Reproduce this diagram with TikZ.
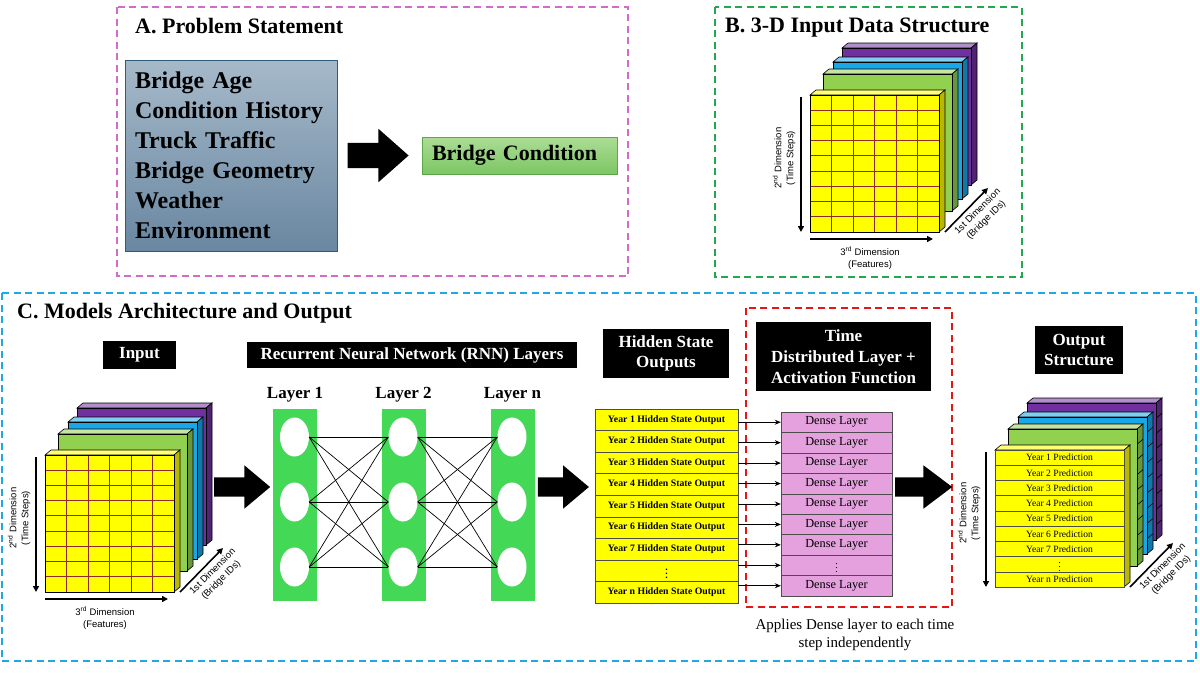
\documentclass[tikz,border=0pt]{standalone}
\usepackage{fontspec}
\setmainfont{Liberation Serif}
\setsansfont{Liberation Sans}
\usepackage{tikz}
\usetikzlibrary{positioning}
\usetikzlibrary{shapes.geometric}
\usetikzlibrary{shapes.arrows}
\usetikzlibrary{arrows.meta}
\usetikzlibrary{calc}
\definecolor{boxA}{HTML}{D36CC9}
\definecolor{boxB}{HTML}{22A84F}
\definecolor{boxC}{HTML}{1DA9E3}
\definecolor{tdred}{HTML}{E41616}
\definecolor{slateTop}{HTML}{A6B9C9}
\definecolor{slateBot}{HTML}{6987A1}
\definecolor{slateEdge}{HTML}{2D5C7C}
\definecolor{condTop}{HTML}{ABDD95}
\definecolor{condBot}{HTML}{7DC664}
\definecolor{condEdge}{HTML}{5EA64B}
\definecolor{rnngreen}{HTML}{44D857}
\definecolor{denseclr}{HTML}{E4A1DE}
\definecolor{gridred}{HTML}{8E2B2B}
\definecolor{slabY}{HTML}{FFFF00}
\definecolor{slabG}{HTML}{92D050}
\definecolor{slabB}{HTML}{19A7E8}
\definecolor{slabP}{HTML}{7030A0}
\tikzstyle{section box} = [line width = 2pt, dash pattern = on 7pt off 4.5pt]
\tikzstyle{section title} = [anchor = base west, inner sep = 0, font = \bfseries\fontsize{22}{24}\selectfont]
\tikzstyle{head box} = [fill = black, text = white, align = center, inner sep = 0, font = \bfseries\fontsize{17}{20}\selectfont]
\tikzstyle{block arrow} = [single arrow, fill = black, inner xsep = 0, anchor = tail]
\tikzstyle{dim arrow} = [line width = 1.6pt, -{Triangle[length = 6pt, width = 6pt]}]
\tikzstyle{dim label} = [align = center, inner sep = 0, font = \sffamily\fontsize{9.5}{12}\selectfont]
\tikzstyle{slab edge} = [draw = black, line width = 0.6pt]
\tikzstyle{grid line} = [draw = gridred, line width = 0.9pt]
\tikzstyle{rnn bar} = [fill = rnngreen, minimum width = 44pt, minimum height = 192pt, inner sep = 0]
\tikzstyle{neuron} = [ellipse, fill = white, minimum width = 29pt, minimum height = 39pt, inner sep = 0]
\tikzstyle{link} = [line width = 0.7pt]
\tikzstyle{hidden row} = [draw = black!70, fill = slabY, minimum width = 143pt, minimum height = 21.55pt, inner sep = 0, font = \bfseries\fontsize{9.8}{11}\selectfont]
\tikzstyle{dense row} = [draw = black!70, fill = denseclr, minimum width = 111pt, minimum height = 20.44pt, inner sep = 0, font = \fontsize{12.3}{13}\selectfont]
\tikzstyle{pred row} = [draw = black!70, fill = slabY, minimum width = 129pt, minimum height = 15.22pt, inner sep = 0, font = \fontsize{9.6}{11}\selectfont]
\tikzstyle{step arrow} = [line width = 0.9pt, -{Stealth[length = 6pt, width = 5pt]}]
\newcommand{\rowdots}{{\fontsize{10}{10}\selectfont$\vdots$}}
\newcommand{\yearlabel}[2]{\ifnum#1=8 \rowdots\else\ifnum#1=9 Year n #2\else Year #1 #2\fi\fi}
% one slab of the data cube: top face, side face, front face
\newcommand{\cubeslab}[4]{%
    \filldraw [slab edge, fill = #3!55!white] (#1, #2) -- ++(6, -5) -- ++(129, 0) -- ++(-6, 5) -- cycle;
    \filldraw [slab edge, fill = #3!72!black] (#1 + 129, #2) -- ++(6, -5) -- ++(0, 137) -- ++(-6, 5) -- cycle;
    \ifnum#4=1
        \foreach \r in {1, ..., 8}
            \draw [slab edge] ({#1 + 129}, {#2 + 15.22*\r}) -- ++(6, -5);
    \fi
    \filldraw [slab edge, fill = #3] (#1, #2) rectangle ++(129, 137);
}
\newcommand{\datacube}[3]{%
    \cubeslab{#1 + 32}{#2 - 47}{slabP}{#3}
    \cubeslab{#1 + 23}{#2 - 33}{slabB}{#3}
    \cubeslab{#1 + 13}{#2 - 21}{slabG}{#3}
    \cubeslab{#1}{#2}{slabY}{0}
}
\newcommand{\cubegrid}[2]{%
    \foreach \c in {1, ..., 5}
        \draw [grid line] ({#1 + 21.5*\c}, #2) -- ++(0, 137);
    \foreach \r in {1, ..., 8}
        \draw [grid line] (#1, {#2 + 15.22*\r}) -- ++(129, 0);
    \draw [slab edge] (#1, #2) rectangle ++(129, 137);
}
% time steps and bridge ids axes
\newcommand{\cubeaxes}[3]{%
    \coordinate (#3t1) at (#1 - 9, #2 + 2);
    \coordinate (#3t2) at (#1 - 9, #2 + 137);
    \draw [dim arrow] (#3t1) -- (#3t2);
    \node [dim label, rotate = 90] (#3tl) at (#1 - 26, #2 + 63) {2\textsuperscript{nd} Dimension\\(Time Steps)};
    \coordinate (#3b1) at (#1 + 135, #2 + 137);
    \coordinate (#3b2) at (#1 + 178, #2 + 93);
    \draw [dim arrow] (#3b1) -- (#3b2);
    \node [dim label, rotate = 45] (#3bl) at (#1 + 172, #2 + 121) {1st Dimension\\(Bridge IDs)};
}
\newcommand{\featureaxis}[3]{%
    \coordinate (#3f1) at (#1, #2 + 144);
    \coordinate (#3f2) at (#1 + 123, #2 + 144);
    \draw [dim arrow] (#3f1) -- (#3f2);
    \node [dim label] (#3fl) at (#1 + 60, #2 + 163) {3\textsuperscript{rd} Dimension\\(Features)};
}

\begin{document}
\begin{tikzpicture}[x = 1pt, y = -1pt]
    \useasboundingbox [fill = white] (0, 0) rectangle (1200, 675);

    % A. problem statement
    \draw [section box, boxA] (117, 7) rectangle (628, 276);
    \node [section title] (titleA) at (135, 33) {A. Problem Statement};
    \node [draw = slateEdge, line width = 0.8pt, top color = slateTop, bottom color = slateBot,
        minimum width = 212pt, minimum height = 191pt, text width = 192pt, inner xsep = 10pt,
        align = left, font = \bfseries\fontsize{24}{30}\selectfont] (inputs) at (231, 155.5)
        {Bridge Age\\Condition History\\Truck Traffic\\Bridge Geometry\\Weather\\Environment};
    \node [block arrow, inner ysep = 12.5pt, minimum height = 61pt, minimum width = 53pt, single arrow head extend = 14pt,
        single arrow tip angle = 83] (arA) at ($(inputs.east) + (10, 0)$) {};
    \node [draw = condEdge, line width = 0.8pt, top color = condTop, bottom color = condBot,
        minimum width = 195pt, minimum height = 37pt, text width = 175pt, inner xsep = 10pt,
        align = left, font = \bfseries\fontsize{22}{24}\selectfont] (cond) at (519.5, 155.5) {Bridge Condition};

    % B. input data structure
    \draw [section box, boxB] (715, 7) rectangle (1022, 277);
    \node [section title] (titleB) at (725, 32) {B. 3-D Input Data Structure};
    \datacube{810}{95}{0}
    \cubegrid{810}{95}
    \cubeaxes{810}{95}{B}
    \featureaxis{810}{95}{B}

    % C. models architecture
    \draw [section box, boxC] (2, 293) rectangle (1196, 661);
    \node [section title] (titleC) at (17, 318) {C. Models Architecture and Output};

    \node [head box, minimum width = 73pt, minimum height = 28pt] (inHead) at (139.5, 355) {Input};
    \datacube{45}{455}{0}
    \cubegrid{45}{455}
    \cubeaxes{45}{455}{I}
    \featureaxis{45}{455}{I}
    \node [block arrow, inner ysep = 9.5pt, minimum height = 56pt, minimum width = 43pt, single arrow head extend = 12pt,
        single arrow tip angle = 80] (arIn) at (214, 487) {};

    \node [head box, minimum width = 330pt, minimum height = 26pt] (rnnHead) at (412, 355)
        {Recurrent Neural Network (RNN) Layers};
    \foreach \l/\x/\t in {1/295/1, 2/403.5/2, 3/512.5/n}
    {
        \node [rnn bar] (bar\l) at (\x, 505) {};
        \node [above = 6pt of bar\l, inner sep = 0, font = \bfseries\fontsize{17}{20}\selectfont] (lab\l) {Layer \t};
        \foreach \k/\y in {1/437, 2/502, 3/567}
            \node [neuron] (n\l\k) at (\x - 0.5, \y) {};
    }
    \foreach \a in {1, 2, 3}
        \foreach \b in {1, 2, 3}
        {
            \draw [link] (n1\a.east) -- (n2\b.west);
            \draw [link] (n2\a.east) -- (n3\b.west);
        }
    \node [block arrow, inner ysep = 9.5pt, minimum height = 51pt, minimum width = 43pt, single arrow head extend = 12pt,
        single arrow tip angle = 80] (arRnn) at ($(bar3.east |- 0, 487) + (3, 0)$) {};

    \node [head box, minimum width = 126pt, minimum height = 49pt] (hidHead) at (666, 353.5)
        {Hidden State\\Outputs};
    \foreach \i in {1, ..., 9}
        \node [hidden row] (h\i) at (666.5, {409 + 21.55*(\i - 0.5)}) {\yearlabel{\i}{Hidden State Output}};

    \draw [section box, tdred, line width = 2.6pt] (746, 308) rectangle (952, 607);
    \node [head box, minimum width = 175pt, minimum height = 69pt, font = \bfseries\fontsize{17}{21}\selectfont] (tdHead)
        at (843.5, 356.5) {Time\\Distributed Layer +\\Activation Function};
    \foreach \i in {1, ..., 9}
        \node [dense row] (d\i) at (836.5, {412 + 20.44*(\i - 0.5)}) {\ifnum\i=8 \rowdots\else Dense Layer\fi};
    \foreach \i in {1, ..., 9}
        \draw [step arrow] (d\i.west -| h\i.east) -- (d\i.west);
    \node [align = center, inner sep = 0, font = \fontsize{15}{18}\selectfont] (tdNote) at (855, 635)
        {Applies Dense layer to each time\\step independently};
    \node [block arrow, inner ysep = 9.5pt, minimum height = 57pt, minimum width = 43pt, single arrow head extend = 12pt,
        single arrow tip angle = 74] (arOut) at (895, 487) {};

    \node [head box, minimum width = 88pt, minimum height = 48pt] (outHead) at (1079, 350) {Output\\Structure};
    \datacube{995}{450}{1}
    \foreach \i in {1, ..., 9}
        \node [pred row] (p\i) at (1059.5, {450 + 15.22*(\i - 0.5)}) {\yearlabel{\i}{Prediction}};
    \cubeaxes{995}{450}{O}
\end{tikzpicture}
\end{document}
